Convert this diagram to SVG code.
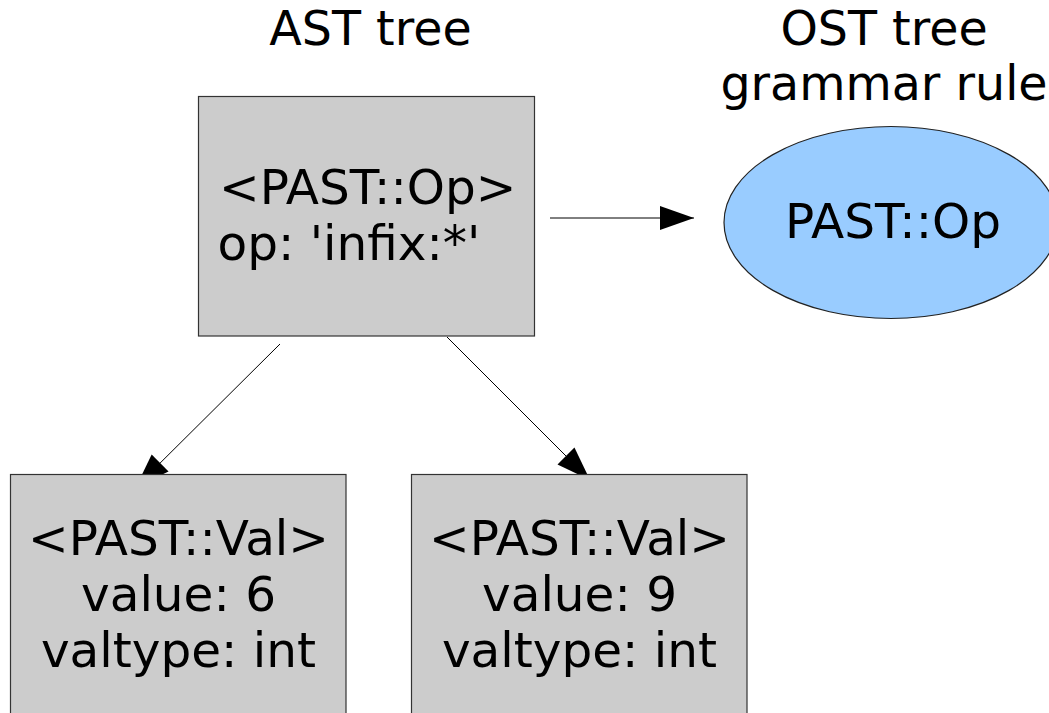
<svg xmlns="http://www.w3.org/2000/svg" width="1049" height="713" viewBox="0 0 1049 713">
  <style>
    text { font-family: "DejaVu Sans", "Liberation Sans", sans-serif; font-size: 48.5px; fill: #000; }
    .heading { font-size: 47.5px; }
    .box { fill: #cccccc; stroke: #333333; stroke-width: 1.2; }
    .rule { fill: #99ccff; stroke: #222222; stroke-width: 1.2; }
    .mid { text-anchor: middle; }
    .edge { stroke: #000; stroke-width: 1; fill: none; marker-end: url(#head); }
  </style>
  <defs>
    <marker id="head" markerUnits="userSpaceOnUse" markerWidth="34" markerHeight="24" refX="34" refY="12" orient="auto" overflow="visible">
      <path d="M0,0 L34,12 L0,24 z" fill="#000"/>
    </marker>
  </defs>
  <rect width="1049" height="713" fill="#fff"/>

  <!-- column headings -->
  <g id="headings">
    <text class="heading mid" x="370.5" y="45">AST tree</text>
    <text class="heading mid" x="884" y="45">OST tree</text>
    <text class="heading mid" x="884" y="100">grammar rule</text>
  </g>

  <!-- connectors -->
  <g id="connectors">
    <line class="edge" x1="550" y1="218" x2="694" y2="218"/>
    <line class="edge" x1="280" y1="344" x2="136" y2="487"/>
    <line class="edge" x1="447" y1="337" x2="590" y2="480"/>
  </g>

  <!-- PAST::Op node in the AST -->
  <g id="ast-op">
    <rect class="box" x="198.5" y="96.5" width="336" height="239.5"/>
    <text x="219" y="204">&lt;PAST::Op&gt;</text>
    <text x="217.5" y="260">op: 'infix:*'</text>
  </g>

  <!-- matching grammar rule -->
  <g id="ost-rule">
    <ellipse class="rule" cx="891" cy="222.5" rx="167" ry="96"/>
    <text class="mid" x="893" y="238">PAST::Op</text>
  </g>

  <!-- left operand -->
  <g id="ast-val-6">
    <rect class="box" x="10.5" y="474.5" width="335.5" height="250"/>
    <text class="mid" x="178.5" y="555">&lt;PAST::Val&gt;</text>
    <text class="mid" x="178.5" y="611">value: 6</text>
    <text class="mid" x="178.5" y="667">valtype: int</text>
  </g>

  <!-- right operand -->
  <g id="ast-val-9">
    <rect class="box" x="411.5" y="474.5" width="335.5" height="250"/>
    <text class="mid" x="579.5" y="555">&lt;PAST::Val&gt;</text>
    <text class="mid" x="579.5" y="611">value: 9</text>
    <text class="mid" x="579.5" y="667">valtype: int</text>
  </g>
</svg>
